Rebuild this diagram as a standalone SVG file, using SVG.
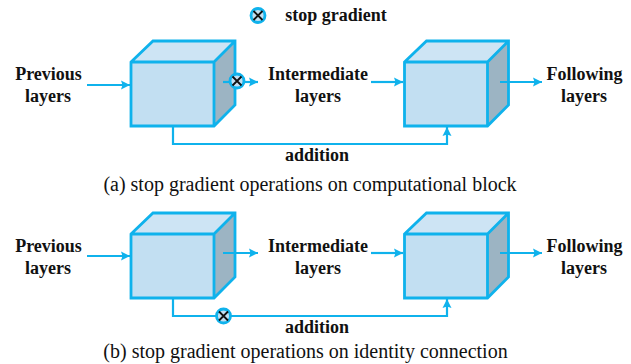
<svg xmlns="http://www.w3.org/2000/svg" width="631" height="364" viewBox="0 0 631 364">
<defs>
<marker id="ah" markerUnits="userSpaceOnUse" markerWidth="10" markerHeight="10" refX="9" refY="5" orient="auto"><path d="M0,0.5 L9,5 L0,9.500 L1.5,5 Z" fill="#0fb2ec"/></marker>
<g id="cube">
<path d="M131,62 L153,41 L235,41 L214,62 Z" fill="#cde4f4"/>
<path d="M214,62 L235,41 L235,105 L214,126 Z" fill="#9cb4c3"/>
<rect x="131" y="62" width="83" height="64" fill="#c2dff2"/>
<path d="M131,62 L153,41 L235,41 L235,105 L214,126 H131 Z M131,62 H214 V126 M214,62 L235,41" fill="none" stroke="#0fb2ec" stroke-width="2.800" stroke-linejoin="miter"/>
</g>
<g id="stop">
<circle r="7" fill="#c2dff2" stroke="#0fb2ec" stroke-width="2.800"/>
<path d="M-4.5,-4.5 L4.5,4.5 M4.5,-4.5 L-4.5,4.5" stroke="#111" stroke-width="1.800" fill="none"/>
</g>
</defs>
<style>
.b{font-family:"Liberation Serif",serif;font-weight:bold;font-size:18px;fill:#111;text-anchor:middle}
.c{font-family:"Liberation Serif",serif;font-size:20px;fill:#111;text-anchor:middle}
.l{fill:none;stroke:#0fb2ec;stroke-width:2.200}
.a{marker-end:url(#ah)}
</style>
<rect width="631" height="364" fill="#fff"/>
<g id="legend"><use href="#stop" x="258" y="15.5"/><text class="b" x="336" y="21">stop gradient</text></g>
<g id="node-a1"><use href="#cube"/></g>
<g id="node-a2"><use href="#cube" x="273.5"/></g>
<g id="node-b1"><use href="#cube" y="172"/></g>
<g id="node-b2"><use href="#cube" x="273.5" y="172"/></g>
<g id="connectors">
<path class="l a" d="M87,85 H130"/>
<path class="l" d="M223,82 H230"/>
<path class="l a" d="M244,82 H258"/>
<path class="l a" d="M371,82 H403"/>
<path class="l a" d="M500,82 H542"/>
<path class="l a" d="M173,127 V144 H447 V127"/>
<path class="l a" d="M87,256 H130"/>
<path class="l a" d="M223,253 H258"/>
<path class="l a" d="M371,253 H403"/>
<path class="l a" d="M500,253 H542"/>
<path class="l a" d="M173,299 V316 H447 V299"/>
</g>
<g id="stop-a"><use href="#stop" x="237" y="81"/></g>
<g id="stop-b"><use href="#stop" x="223.500" y="316"/></g>
<g id="labels">
<text class="b" x="48.500" y="80">Previous</text><text class="b" x="48" y="102">layers</text>
<text class="b" x="318" y="80">Intermediate</text><text class="b" x="318" y="102">layers</text>
<text class="b" x="584.500" y="80">Following</text><text class="b" x="584" y="102">layers</text>
<text class="b" x="317" y="161">addition</text>
<text class="c" x="310" y="191">(a) stop gradient operations on computational block</text>
<text class="b" x="48.500" y="252">Previous</text><text class="b" x="48" y="274">layers</text>
<text class="b" x="318" y="252">Intermediate</text><text class="b" x="318" y="274">layers</text>
<text class="b" x="584.500" y="252">Following</text><text class="b" x="584" y="274">layers</text>
<text class="b" x="317" y="333">addition</text>
<text class="c" x="305.500" y="358">(b) stop gradient operations on identity connection</text>
</g>
</svg>
